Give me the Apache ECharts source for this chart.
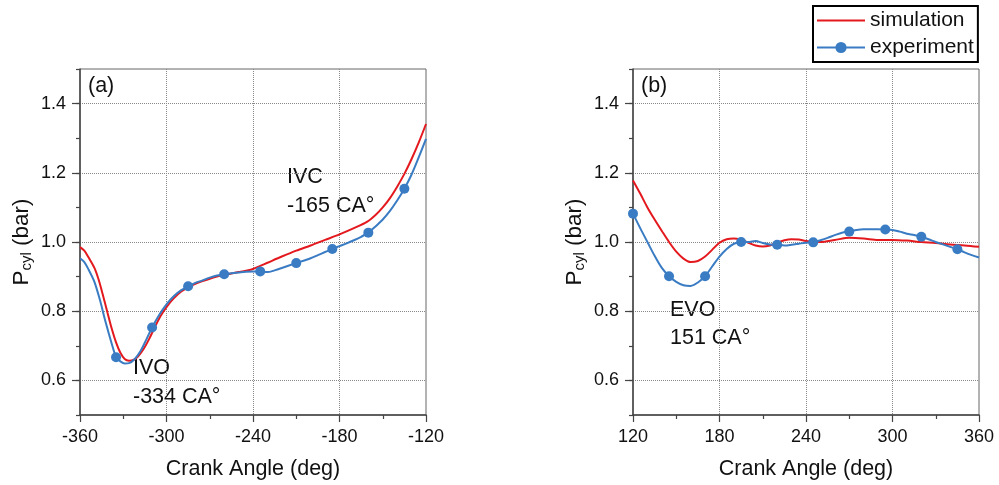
<!DOCTYPE html>
<html>
<head>
<meta charset="utf-8">
<script src="https://cdn.jsdelivr.net/npm/echarts@6/dist/echarts.min.js"></script>
<style>html,body{margin:0;padding:0;background:#fff}#c{width:999px;height:485px}</style>
</head>
<body>
<div id="c"></div>
<script>
// ---- Panel (a): intake, crank angle -360..-120 ----
const simAngleA = [-360,-357,-354,-350,-347,-344,-341,-338,-335,-332,-329,-326,-323,-320,-316,-312,-308,-304,-300,-295,-290,-285,-280,-275,-270,-265,-260,-255,-250,-245,-240,-235,-230,-220,-210,-200,-190,-180,-170,-161,-155,-150,-145,-140,-135,-130,-125,-120];
const simPressureA = [0.985,0.975,0.955,0.925,0.89,0.845,0.797,0.75,0.71,0.68,0.662,0.657,0.659,0.668,0.69,0.72,0.755,0.787,0.812,0.837,0.856,0.869,0.879,0.887,0.894,0.9,0.905,0.909,0.913,0.917,0.922,0.931,0.94,0.958,0.975,0.99,1.006,1.022,1.04,1.058,1.078,1.1,1.127,1.16,1.197,1.24,1.288,1.341];
const expAngleA = [-360,-357,-354,-350,-346,-343,-340,-337,-335,-332,-329,-326,-322,-318,-314,-310,-305,-300,-295,-290,-285,-280,-275,-270,-265,-260,-255,-250,-245,-240,-235,-230,-225,-220,-215,-210,-205,-200,-195,-190,-185,-180,-175,-170,-165,-160,-155,-150,-145,-140,-135,-130,-125,-120];
const expPressureA = [0.953,0.942,0.92,0.885,0.83,0.78,0.735,0.692,0.667,0.655,0.649,0.65,0.662,0.685,0.718,0.753,0.79,0.82,0.843,0.86,0.872,0.882,0.889,0.897,0.903,0.907,0.91,0.912,0.914,0.915,0.915,0.913,0.918,0.925,0.932,0.939,0.946,0.953,0.962,0.971,0.98,0.988,0.996,1.005,1.015,1.027,1.045,1.065,1.09,1.12,1.154,1.195,1.245,1.298];
const markerAngleA = [-335,-310,-285,-260,-235,-210,-185,-160,-135];

// ---- Panel (b): exhaust, crank angle 120..360 ----
const simAngleB = [120,125,130,135,140,145,150,155,160,165,170,175,180,185,190,195,200,205,210,215,220,225,230,235,240,250,260,270,280,290,300,310,320,330,340,350,360];
const simPressureB = [1.178,1.14,1.1,1.065,1.032,1.0,0.972,0.952,0.942,0.945,0.958,0.978,0.998,1.008,1.01,1.006,0.998,0.99,0.987,0.99,0.998,1.005,1.008,1.007,1.003,1.0,1.006,1.012,1.01,1.006,1.006,1.004,1.0,0.997,0.993,0.99,0.986];
const expAngleB = [120,125,130,135,140,145,150,155,160,165,170,175,180,185,190,195,200,205,210,215,220,225,230,235,240,245,250,255,260,265,270,275,280,285,290,295,300,305,310,315,320,325,330,335,340,345,350,355,360];
const expPressureB = [1.082,1.04,1.0,0.96,0.925,0.901,0.885,0.875,0.873,0.883,0.901,0.93,0.958,0.98,0.995,1.0,1.0,1.003,0.997,0.993,0.992,0.99,0.992,0.995,0.998,0.999,1.005,1.012,1.02,1.027,1.03,1.035,1.037,1.037,1.037,1.036,1.035,1.03,1.024,1.02,1.015,1.008,1.0,0.993,0.986,0.979,0.97,0.962,0.955];
const markerAngleB = [120,145,170,195,220,245,270,295,320,345];

const yTickValues = [0.6,0.8,1.0,1.2,1.4];
const xRangeA = [-360,-120], xRangeB = [120,360];

const RED = '#e3191e', BLUE = '#3a7cc3', TXT = '#111', AX = '#444';
const FONT = 'Liberation Sans, Arial, sans-serif';

function pairs(xs, ys){ return xs.map((x,i)=>[x, ys[i]]); }
function expData(xs, ys, marks){
  return xs.map((x,i)=> marks.indexOf(x) >= 0 ? {value:[x,ys[i]]} : {value:[x,ys[i]], symbol:'none'});
}

const chart = echarts.init(document.getElementById('c'), null, {renderer:'canvas'});

function xAxisFor(g, range){
  return {
    type:'value', gridIndex:g, min:range[0], max:range[1], interval:60,
    name:'Crank Angle (deg)', nameLocation:'middle', nameGap:43,
    nameTextStyle:{fontSize:21.5, color:TXT, fontFamily:FONT},
    axisLine:{show:true, onZero:false, lineStyle:{color:AX, width:1.5}},
    axisTick:{show:true, length:7, lineStyle:{color:AX, width:1.2}},
    minorTick:{show:true, splitNumber:2, length:4, lineStyle:{color:AX, width:1.2}},
    axisLabel:{fontSize:18, color:TXT, fontFamily:FONT, margin:13},
    splitLine:{show:true, showMinLine:false, showMaxLine:false, lineStyle:{type:'dotted', color:'#888', width:1}}
  };
}
function yAxesFor(g){
  return [
    {
      type:'value', gridIndex:g, position:'left', min:0.5, max:1.5,
      name:'{n|P}{s|cyl}{n| (bar)}', nameLocation:'middle', nameGap:46, nameRotate:90,
      nameTextStyle:{color:TXT, fontFamily:FONT, rich:{n:{fontSize:22.5, color:TXT, fontFamily:FONT}, s:{fontSize:15, color:TXT, fontFamily:FONT, padding:[10,0,0,0]}}},
      axisLine:{show:true, onZero:false, lineStyle:{color:AX, width:1.5}},
      axisTick:{show:true, length:8, customValues:yTickValues, lineStyle:{color:AX, width:1.2}},
      axisLabel:{fontSize:18, color:TXT, fontFamily:FONT, margin:14, customValues:yTickValues, formatter:v=>v.toFixed(1)},
      splitLine:{show:true, lineStyle:{type:'dotted', color:'#888', width:1}}
    },
    {
      type:'value', gridIndex:g, position:'left', min:0.5, max:1.5, interval:0.1,
      axisLine:{show:false},
      axisTick:{show:true, length:4, lineStyle:{color:AX, width:1.2}},
      axisLabel:{show:false}, splitLine:{show:false}
    }
  ];
}
const yA = yAxesFor(0), yB = yAxesFor(1);

function simSeries(xi, yi, xs, ys){
  return {name:'simulation', type:'line', xAxisIndex:xi, yAxisIndex:yi, data:pairs(xs,ys), smooth:0.3,
    symbol:'none', lineStyle:{color:RED, width:2}, itemStyle:{color:RED}, z:3};
}
function expSeries(xi, yi, xs, ys, marks){
  return {name:'experiment', type:'line', xAxisIndex:xi, yAxisIndex:yi, data:expData(xs,ys,marks), smooth:0.3,
    symbol:'circle', symbolSize:10, showSymbol:true, lineStyle:{color:BLUE, width:2}, itemStyle:{color:BLUE}, z:4};
}

const txt = (t, x, y) => ({type:'text', left:x, top:y, style:{text:t, fontSize:21.5, fontFamily:FONT, fill:TXT}});

chart.setOption({
  animation:false,
  backgroundColor:'#fff',
  grid:[
    {left:80, top:69, width:346, height:346, show:true, borderColor:'#666', borderWidth:1},
    {left:633, top:69, width:346, height:346, show:true, borderColor:'#666', borderWidth:1}
  ],
  xAxis:[xAxisFor(0, xRangeA), xAxisFor(1, xRangeB)],
  yAxis:[yA[0], yA[1], yB[0], yB[1]],
  legend:{
    data:[{name:'simulation', itemStyle:{opacity:0}}, {name:'experiment'}],
    orient:'vertical', left:813, top:6,
    itemWidth:48, itemHeight:14, itemGap:6, padding:[4,4,4,3],
    borderColor:'#000', borderWidth:2,
    textStyle:{fontSize:21, color:TXT, fontFamily:FONT, lineHeight:21}
  },
  series:[
    simSeries(0, 0, simAngleA, simPressureA),
    expSeries(0, 0, expAngleA, expPressureA, markerAngleA),
    simSeries(1, 2, simAngleB, simPressureB),
    expSeries(1, 2, expAngleB, expPressureB, markerAngleB)
  ],
  graphic:[
    txt('(a)', 88, 75),
    txt('IVO', 133, 357),
    txt('-334 CA°', 133, 386),
    txt('IVC', 287, 166),
    txt('-165 CA°', 287, 195),
    txt('(b)', 641, 75),
    txt('EVO', 670, 299),
    txt('151 CA°', 670, 327)
  ]
});
</script>
</body>
</html>
